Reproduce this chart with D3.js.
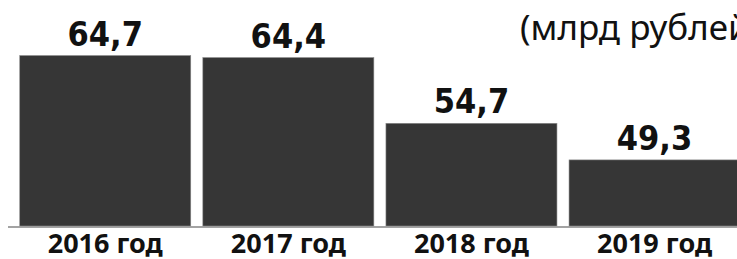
<!DOCTYPE html>
<html>
<head>
<meta charset="utf-8">
<script src="https://cdn.jsdelivr.net/npm/d3@7"></script>
<style>
  html, body { margin: 0; padding: 0; background: #fff; overflow: hidden; }
</style>
</head>
<body>
<div id="chart"></div>
<script>
// data
const years = ["2016 год", "2017 год", "2018 год", "2019 год"];
const values = [64.7, 64.4, 54.7, 49.3];
const valueLabels = ["64,7", "64,4", "54,7", "49,3"];
const unitLabel = "(млрд рублей";

const width = 737,
  height = 259,
  baseY = 227;

const svg = d3
  .select("#chart")
  .append("svg")
  .attr("width", width)
  .attr("height", height);

// bands, slightly wider than the window so the last bar is cut
const x = d3
  .scaleBand()
  .domain(years)
  .range([13.7, 746.1])
  .paddingInner(0.066)
  .paddingOuter(0.033);

// infographic scale, does not start at zero
const y = d3.scaleLinear().domain([39.4, 65]).range([baseY, 53.5]);

const data = years.map((d, i) => ({ year: d, value: values[i], label: valueLabels[i] }));

// unit label top right
svg
  .append("text")
  .attr("x", 520)
  .attr("y", 40)
  .style("font-family", "'Noto Sans', sans-serif")
  .style("font-size", "35px")
  .style("fill", "#111")
  .text(unitLabel);

// baseline
svg
  .append("line")
  .attr("x1", 8)
  .attr("x2", width)
  .attr("y1", baseY)
  .attr("y2", baseY)
  .style("stroke", "#a3a3a3")
  .style("stroke-width", 2);

// bars
svg
  .selectAll(".bar")
  .data(data)
  .join("rect")
  .attr("class", "bar")
  .attr("x", (d) => x(d.year))
  .attr("y", (d) => y(d.value))
  .attr("width", x.bandwidth())
  .attr("height", (d) => baseY - 1 - y(d.value))
  .style("fill", "#363636")
  .style("stroke", "#8a8a8a")
  .style("stroke-width", 0.6);

// value labels
svg
  .selectAll(".val")
  .data(data)
  .join("text")
  .attr("class", "val")
  .attr("x", (d) => x(d.year) + x.bandwidth() / 2)
  .attr("y", (d) => y(d.value) - 10)
  .attr("text-anchor", "middle")
  .style("font-family", "'DejaVu Sans', sans-serif")
  .style("font-stretch", "condensed")
  .style("font-weight", "bold")
  .style("font-size", "34px")
  .style("fill", "#111")
  .text((d) => d.label);

// x axis labels
const xAxis = svg
  .append("g")
  .attr("transform", `translate(0,${baseY})`)
  .call(d3.axisBottom(x).tickSize(0).tickPadding(7));
xAxis.select(".domain").remove();
xAxis
  .selectAll("text")
  .style("font-family", "'Noto Sans', sans-serif")
  .style("font-weight", "bold")
  .style("font-size", "27px")
  .style("fill", "#111");
</script>
</body>
</html>
